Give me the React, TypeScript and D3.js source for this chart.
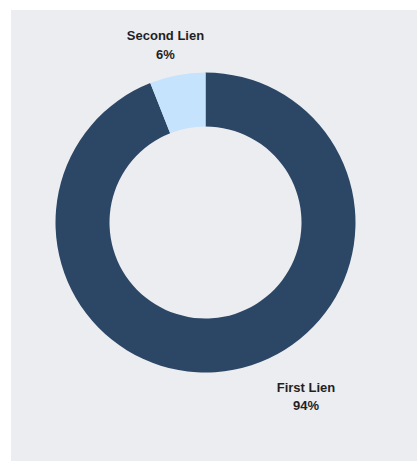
import React from "react";
import * as d3 from "d3";

const categories = ["First Lien", "Second Lien"];
const values = [94, 6];
const labels = ["94%", "6%"];

const W = 417;
const H = 461;
const colors = ["#2c4766", "#c5e3fd"];

export default function App() {
  const cx = 205.5;
  const cy = 222.5;
  const R = 150;
  const r = 96;

  const pie = d3.pie<number>().sort(null).value((d) => d).startAngle(0).endAngle(2 * Math.PI);
  const arcs = pie(values);
  const arc = d3.arc<d3.PieArcDatum<number>>().innerRadius(r).outerRadius(R);

  // label offsets relative to the chart centre
  const labelPos = [
    { dx: 100.5, dy: 169 },
    { dx: -40, dy: -182.5 },
  ];

  return (
    <svg
      width={W}
      height={H}
      style={{ position: "fixed", left: 0, top: 0, display: "block" }}
    >
      <rect x={0} y={0} width={W} height={H} fill="#ffffff" />
      <rect x={11} y={10} width={W - 11} height={H - 10} fill="#ecedf1" />
      <g transform={`translate(${cx},${cy})`}>
        {arcs.map((a, i) => (
          <path key={categories[i]} d={arc(a) || ""} fill={colors[i]} />
        ))}
        {arcs.map((a, i) => (
          <text
            key={"l" + categories[i]}
            x={labelPos[i].dx}
            y={labelPos[i].dy}
            textAnchor="middle"
            fontFamily="'Liberation Sans', Arial, sans-serif"
            fontWeight="bold"
            fontSize={13}
            fill="#1f1f24"
          >
            <tspan x={labelPos[i].dx} dy={0}>{categories[i]}</tspan>
            <tspan x={labelPos[i].dx} dy={18.5}>{labels[i]}</tspan>
          </text>
        ))}
      </g>
    </svg>
  );
}
